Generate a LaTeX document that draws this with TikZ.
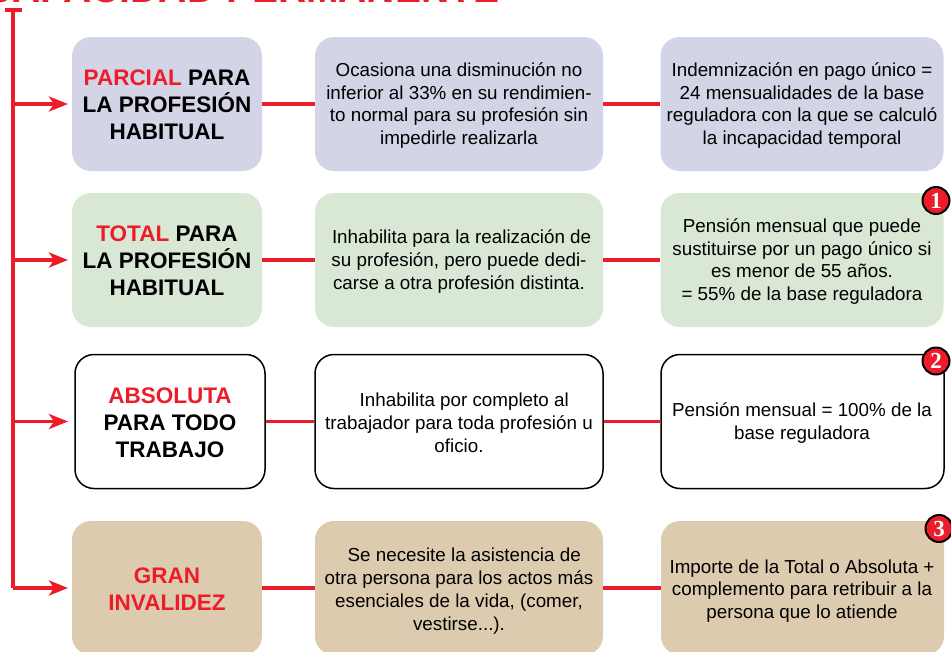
\documentclass[tikz,border=0pt]{standalone}
\usepackage{fontspec}
\setmainfont{Liberation Sans}
\newfontfamily\badgefont{Liberation Serif}
\usetikzlibrary{arrows.meta}
\definecolor{cred}{HTML}{ED1C2A}
\definecolor{cblue}{HTML}{D3D4E6}
\definecolor{cgreen}{HTML}{D9E8D5}
\definecolor{ctan}{HTML}{DDCBAF}
\tikzset{
 x=1pt,y=-1pt,
 boxbase/.style={rounded corners=19pt,inner sep=0pt,anchor=center,minimum height=134pt},
 headbox/.style={boxbase,minimum width=190pt},
 midbox/.style={boxbase,minimum width=288pt},
 sidebox/.style={boxbase,minimum width=283pt},
 outlined/.style={draw=black,line width=1.5pt,fill=white},
 headtext/.style={inner sep=0pt,align=center,text=black,font=\fontsize{22.5}{27}\selectfont\bfseries},
 bodytext/.style={inner sep=0pt,align=center,text=black,font=\fontsize{18.8}{22.8}\selectfont},
 link/.style={draw=cred,line width=3.6pt},
 trunk/.style={draw=cred,line width=3.8pt},
 branch/.style={draw=cred,line width=3.4pt,-{Stealth[length=19pt,width=15pt,inset=5pt]}},
 badge/.style={circle,draw=black,line width=2pt,fill=cred,text=white,minimum size=27pt,inner sep=0pt,font=\fontsize{23}{23}\selectfont\badgefont\bfseries},
}
\newcommand{\rd}[1]{\textcolor{cred}{#1}}
\begin{document}
\begin{tikzpicture}
\useasboundingbox (0,0) rectangle (951,651);
\clip (0,0) rectangle (951,651);
\node[text=cred,font=\fontsize{39}{39}\selectfont\bfseries,anchor=base west,inner sep=0pt] (title) at (-55,2.8) {INCAPACIDAD PERMANENTE};
% row 1
\node[headbox,fill=cblue] (h1) at (167,104) {};
\node[headtext] (h1t) at (167,105) {\rd{PARCIAL} PARA\\LA PROFESIÓN\\HABITUAL};
\node[midbox,fill=cblue] (m1) at (459,104) {};
\node[bodytext] (m1t) at (459,105.5) {Ocasiona una disminución no\\inferior al 33\% en su rendimien-\\to normal para su profesión sin\\impedirle realizarla};
\node[sidebox,fill=cblue] (s1) at (802,104) {};
\node[bodytext] (s1t) at (802,105.5) {Indemnización en pago único =\\24 mensualidades de la base\\reguladora con la que se calculó\\la incapacidad temporal};
% row 2
\node[headbox,fill=cgreen] (h2) at (167,260) {};
\node[headtext] (h2t) at (167,261) {\rd{TOTAL} PARA\\LA PROFESIÓN\\HABITUAL};
\node[midbox,fill=cgreen] (m2) at (459,260) {};
\node[bodytext] (m2t) at (459,261.5) {\ Inhabilita para la realización de\\su profesión, pero puede dedi-\\carse a otra profesión distinta.};
\node[sidebox,fill=cgreen] (s2) at (802,260) {};
\node[bodytext] (s2t) at (802,261.5) {Pensión mensual que puede\\sustituirse por un pago único si\\es menor de 55 años.\\= 55\% de la base reguladora};
% row 3
\node[headbox,outlined] (h3) at (170,421.5) {};
\node[headtext] (h3t) at (170,422.5) {\rd{ABSOLUTA}\\PARA TODO\\TRABAJO};
\node[midbox,outlined] (m3) at (459,421.5) {};
\node[bodytext] (m3t) at (459,423) {\ \ Inhabilita por completo al\\trabajador para toda profesión u\\oficio.};
\node[sidebox,outlined] (s3) at (802.5,421.5) {};
\node[bodytext] (s3t) at (802,423) {Pensión mensual = 100\% de la\\base reguladora};
% row 4
\node[headbox,fill=ctan] (h4) at (167,588) {};
\node[headtext] (h4t) at (167,589) {\rd{GRAN}\\\rd{INVALIDEZ}};
\node[midbox,fill=ctan] (m4) at (459,588) {};
\node[bodytext] (m4t) at (459,591) {\ \ Se necesite la asistencia de\\otra persona para los actos más\\esenciales de la vida, (comer,\\vestirse...).};
\node[sidebox,fill=ctan] (s4) at (802.5,588) {};
\node[bodytext] (s4t) at (802,591) {Importe de la Total o Absoluta +\\complemento para retribuir a la\\persona que lo atiende};
% connectors
\foreach \r in {1,2,3,4}{
 \draw[link] (h\r.east) -- (m\r.west);
 \draw[link] (m\r.east) -- (s\r.west);
}
\coordinate (top) at (13,10);
\coordinate (capl) at (5,10);
\coordinate (capr) at (22,10);
\coordinate (elbow) at (13,588);
\coordinate (j1) at (13,104);
\coordinate (j2) at (13,260);
\coordinate (j3) at (13,421.5);
\coordinate (e1) at (68,104);
\coordinate (e2) at (68,260);
\coordinate (e3) at (68,421.5);
\coordinate (e4) at (68,588);
\draw[draw=cred,line width=3.6pt] (capl) -- (capr);
\draw[trunk,line join=round] (top) -- (elbow);
\draw[branch] (elbow) -- (e4);
\draw[branch] (j1) -- (e1);
\draw[branch] (j2) -- (e2);
\draw[branch] (j3) -- (e3);
% badges
\node[badge] (b1) at (936,200.5) {1};
\node[badge] (b2) at (936,361) {2};
\node[badge] (b3) at (939,528.5) {3};
\end{tikzpicture}
\end{document}
